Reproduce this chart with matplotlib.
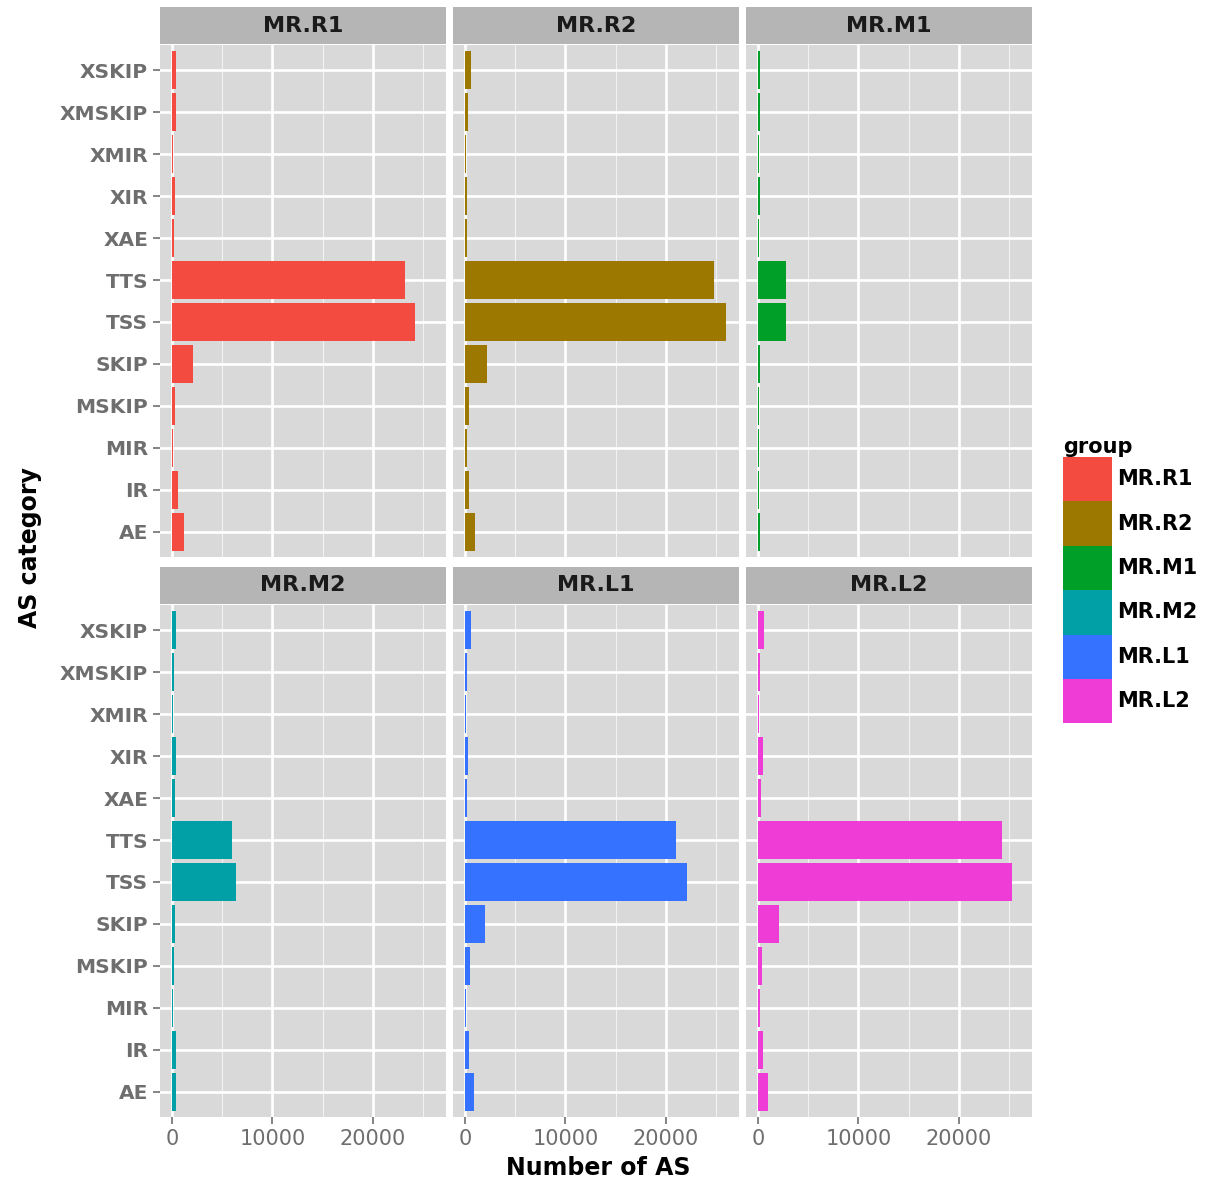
import matplotlib
matplotlib.use("Agg")
from matplotlib import pyplot as plt
from matplotlib.patches import Patch

# categories, top to bottom as drawn
categories = ["XSKIP", "XMSKIP", "XMIR", "XIR", "XAE", "TTS", "TSS",
              "SKIP", "MSKIP", "MIR", "IR", "AE"]
groups = ["MR.R1", "MR.R2", "MR.M1", "MR.M2", "MR.L1", "MR.L2"]

r1 = [400, 400, 100, 300, 200, 23200, 24200, 2100, 300, 100, 550, 1150]
r2 = [600, 250, 100, 200, 150, 24800, 26000, 2200, 400, 150, 350, 1000]
m1 = [200, 150, 80, 150, 120, 2800, 2800, 150, 100, 60, 100, 150]
m2 = [400, 200, 100, 350, 250, 6000, 6400, 300, 150, 80, 350, 400]
l1 = [550, 200, 100, 250, 200, 21000, 22100, 1950, 450, 120, 350, 900]
l2 = [550, 200, 100, 450, 250, 24300, 25300, 2100, 400, 150, 450, 950]
values = [r1, r2, m1, m2, l1, l2]

colors = ["#F44B40", "#9C7800", "#00A028", "#00A0A6", "#3572FF", "#F03CD6"]

xticks = [0, 10000, 20000]
minor_ticks = [5000, 15000, 25000]

W, H = 1222, 1187
fig = plt.figure(figsize=(W / 100, H / 100), dpi=100)

col_x = [160, 453, 746]
panel_w = 286
row_top = [45, 605]
panel_h = 512
strip_h = 37


def fig_rect(x, y, w, h):
    return [x / W, 1 - (y + h) / H, w / W, h / H]


ypos = list(range(len(categories)))
for i, g in enumerate(groups):
    r, c = divmod(i, 3)
    ax = fig.add_axes(fig_rect(col_x[c], row_top[r], panel_w, panel_h))
    ax.set_facecolor("#D9D9D9")
    ax.set_xlim(-1200, 27300)
    ax.set_ylim(len(categories) - 0.4, -0.6)
    ax.set_xticks(xticks)
    ax.set_xticks(minor_ticks, minor=True)
    ax.set_yticks(ypos)
    ax.grid(True, which="major", color="white", lw=1.9)
    ax.grid(True, which="minor", axis="x", color="#F2F2F2", lw=0.8)
    ax.set_axisbelow(True)
    for s in ax.spines.values():
        s.set_visible(False)
    ax.barh(ypos, values[i], height=0.9, color=colors[i], lw=0)
    ax.tick_params(which="minor", length=0)
    ax.tick_params(which="major", length=5, width=1.2, color="#707070")
    if c == 0:
        ax.set_yticklabels(categories, fontsize=14.5, fontweight="bold",
                           color="#6E6E6E")
    else:
        ax.tick_params(axis="y", length=0, labelleft=False)
    if r == 1:
        ax.set_xticklabels([str(t) for t in xticks], fontsize=15,
                           color="#6E6E6E")
    else:
        ax.tick_params(axis="x", length=0, labelbottom=False)

    sax = fig.add_axes(fig_rect(col_x[c], row_top[r] - strip_h - 1,
                                panel_w, strip_h))
    sax.set_facecolor("#B5B5B5")
    sax.set_xticks([])
    sax.set_yticks([])
    for s in sax.spines.values():
        s.set_visible(False)
    sax.text(0.5, 0.5, g, ha="center", va="center", fontsize=16,
             fontweight="bold", color="#1A1A1A", transform=sax.transAxes)

fig.text(598 / W, 1 - 1168 / H, "Number of AS", ha="center", va="center",
         fontsize=17, fontweight="bold")
fig.text(30 / W, 1 - 548 / H, "AS category", ha="center", va="center",
         rotation=90, fontsize=17, fontweight="bold")

handles = [Patch(facecolor=col, edgecolor="none") for col in colors]
leg = fig.legend(handles, groups, loc="upper left",
                 bbox_to_anchor=(1063 / W, 1 - 437 / H), frameon=False,
                 title="group", fontsize=15, handlelength=2.35,
                 handleheight=2.9, labelspacing=0.0, handletextpad=0.25,
                 borderpad=0.0, borderaxespad=0.0)
leg.get_title().set_fontweight("bold")
leg.get_title().set_fontsize(15)
leg._legend_box.align = "left"
for t in leg.get_texts():
    t.set_fontweight("bold")

fig.savefig("out.png", dpi=100)
